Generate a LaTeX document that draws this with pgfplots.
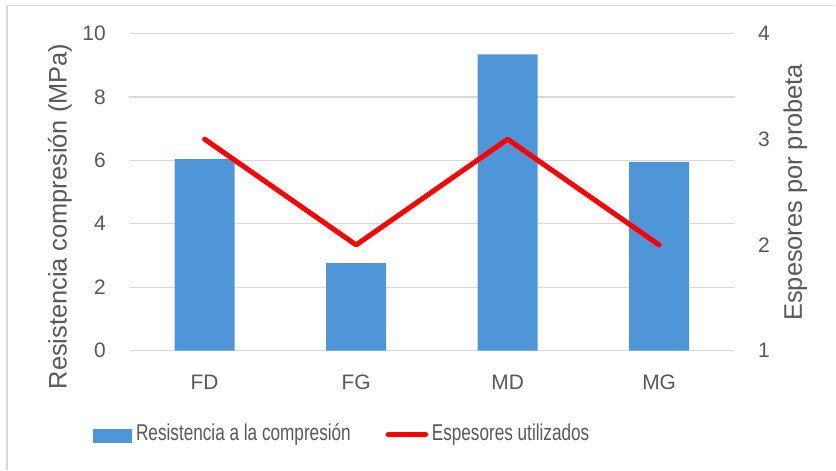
\documentclass[border=0pt]{standalone}
\usepackage{pgfplots}
\pgfplotsset{compat=1.18}
\usepackage{fontspec}
\setmainfont{Liberation Sans}
\newfontfamily\legendfont[FakeStretch=0.75]{Liberation Sans}

\definecolor{barblue}{RGB}{79,150,217}
\definecolor{gridgray}{RGB}{217,217,217}
\definecolor{txtgray}{RGB}{89,89,89}
\definecolor{frameg}{RGB}{217,217,217}

\pgfplotstableread{
x  res   esp
0  6.04  3
1  2.76  2
2  9.34  3
3  5.95  2
}\datos

\pgfplotsset{
  common/.style={
    scale only axis, width=606.5bp, height=317.5bp,
    xmin=-0.5, xmax=3.5,
    axis line style={draw=none},
    major tick length=0pt,
    /pgf/number format/assume math mode=true,
    tick label style={font=\fontsize{21}{25}\selectfont, text=txtgray, inner sep=0pt},
    clip=false,
  },
}

\begin{document}
\begin{tikzpicture}[x=1bp,y=1bp]
  % canvas
  \path[fill=white] (0,0) rectangle (836,470);
  \draw[frameg,line width=1.5bp] (7,0) -- (7,464.5) -- (836,464.5);

  % left axis: compressive strength (bars)
  \begin{axis}[
    common,
    at={(129bp,119bp)}, anchor=south west,
    ymin=0, ymax=10,
    xtick={0,1,2,3}, xticklabels={FD,FG,MD,MG},
    ytick={0,2,4,6,8,10},
    ymajorgrids, grid style={gridgray,line width=1.4bp},
    yticklabel style={anchor=east, xshift=-23bp},
    xticklabel style={anchor=north, yshift=-24bp},
    axis y line*=left,
  ]
    \addplot[ybar, bar width=60bp, fill=barblue, draw=none] table[x=x,y=res]{\datos};
  \end{axis}

  % right axis: thicknesses used (line)
  \begin{axis}[
    common,
    at={(129bp,119bp)}, anchor=south west,
    ymin=1, ymax=4,
    axis x line=none,
    axis y line*=right,
    ytick={1,2,3,4},
    yticklabel style={anchor=west, xshift=23bp},
  ]
    \addplot[red, line width=5bp, line cap=round, line join=round] table[x=x,y=esp]{\datos};
  \end{axis}

  % axis titles
  \node[rotate=90, text=txtgray, font=\fontsize{25.5}{30}\selectfont] at (60,253.3) {Resistencia compresión (MPa)};
  \node[rotate=90, text=txtgray, font=\fontsize{25.5}{30}\selectfont] at (796,277.5) {Espesores por probeta};

  % legend
  \fill[barblue] (92.7,27) rectangle (131.7,41);
  \node[anchor=west, inner sep=0pt, text=txtgray, font=\legendfont\fontsize{23}{27}\selectfont] at (136,35) {Resistencia a la compresión};
  \draw[red, line width=5bp, line cap=round] (388.5,35) -- (426,35);
  \node[anchor=west, inner sep=0pt, text=txtgray, font=\legendfont\fontsize{23}{27}\selectfont] at (432,35) {Espesores utilizados};
\end{tikzpicture}
\end{document}
